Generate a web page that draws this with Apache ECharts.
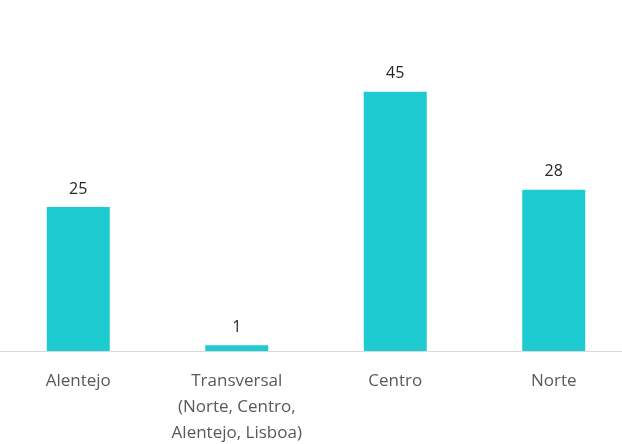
<!DOCTYPE html>
<html><head><meta charset="utf-8">
<script src="https://cdn.jsdelivr.net/npm/echarts@6/dist/echarts.min.js"></script>
<style>html,body{margin:0;padding:0;background:#fff}#c{width:622px;height:444px}</style>
</head><body><div id="c"></div>
<script>
const categories = ['Alentejo', 'Transversal\n(Norte, Centro,\nAlentejo, Lisboa)', 'Centro', 'Norte'];
const values = [25, 1, 45, 28];

const chart = echarts.init(document.getElementById('c'), null, {renderer: 'canvas'});
chart.setOption({
  animation: false,
  grid: {left: -1, width: 634, top: 63, bottom: 93, containLabel: false, outerBoundsMode: 'none'},
  xAxis: {
    type: 'category', data: categories,
    axisLine: {lineStyle: {color: '#d9d9d9', width: 1}},
    axisTick: {show: false},
    axisLabel: {color: '#595959', fontFamily: 'Open Sans', fontSize: 17, lineHeight: 26, margin: 17, interval: 0}
  },
  yAxis: {type: 'value', min: 0, max: 50, show: false, splitLine: {show: false}},
  series: [{
    type: 'bar', data: values, barWidth: 63,
    itemStyle: {color: '#1ECBD1'},
    label: {show: true, position: 'top', distance: 10, color: '#262626', fontFamily: 'Open Sans', fontSize: 16}
  }]
});
</script></body></html>
